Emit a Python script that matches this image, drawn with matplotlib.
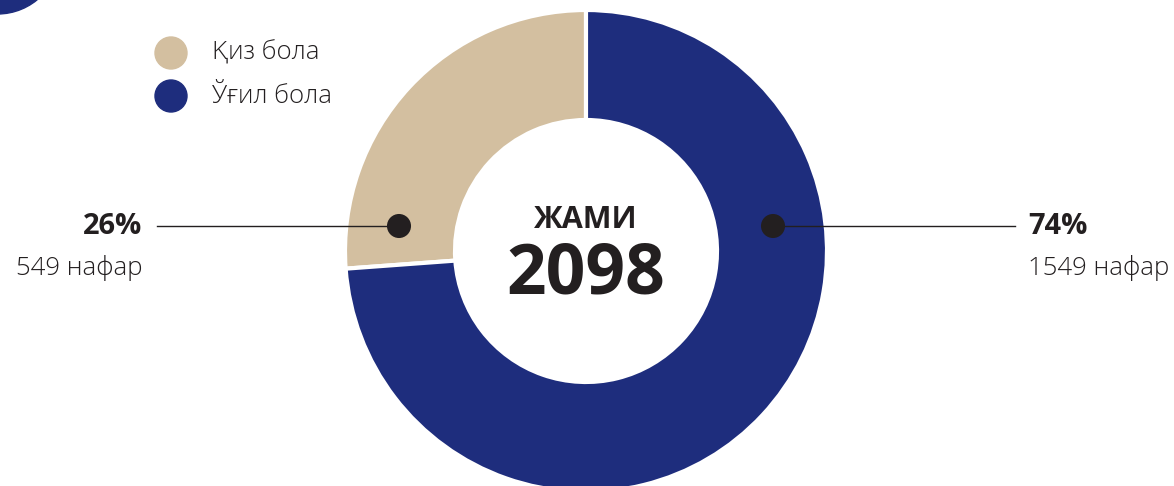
import matplotlib
matplotlib.use("Agg")
import matplotlib.pyplot as plt
from matplotlib.patches import Circle

labels = ["Қиз бола", "Ўғил бола"]
values = [549, 1549]
percent_labels = ["26%", "74%"]
count_labels = ["549 нафар", "1549 нафар"]
total_title = "ЖАМИ"
total_value = "2098"
colors = ["#D3BFA0", "#1E2D7D"]
dark = "#231F20"

plt.rcParams['font.family'] = ['Open Sans', 'DejaVu Sans']

W, H = 1174, 486
fig = plt.figure(figsize=(W / 100, H / 100), dpi=100)
ax = fig.add_axes([0, 0, 1, 1])

cx, cy, R, r_in = 586, H - 251, 241, 131
ax.pie(values, colors=colors, startangle=90, counterclock=True,
       radius=R, center=(cx, cy),
       wedgeprops=dict(width=R - r_in, edgecolor="white", linewidth=3))
ax.set_xlim(0, W)
ax.set_ylim(0, H)
ax.set_aspect('auto')
ax.axis('off')

# decoration circle top-left
ax.add_patch(Circle((-2.5, H + 48.5), 62.5, color=colors[1], clip_on=True))

# center text
ax.text(cx, H - 220, total_title, ha='center', va='center', fontsize=22,
        fontweight='bold', color=dark)
ax.text(cx, H - 276, total_value, ha='center', va='center', fontsize=50,
        fontweight='bold', color=dark)

# callouts
ly = H - 226
ax.plot([157, 399], [ly, ly], color=dark, lw=1, zorder=3)
ax.plot([773, 1015], [ly, ly], color=dark, lw=1, zorder=3)
ax.scatter([399, 773], [ly, ly], s=300, color=dark, zorder=4, edgecolors='none')

ax.text(142, ly, percent_labels[0], ha='right', va='center', fontsize=21,
        fontweight='bold', color=dark)
ax.text(142, H - 268, count_labels[0], ha='right', va='center', fontsize=18.5,
        fontweight='light', color=dark)
ax.text(1028, ly, percent_labels[1], ha='left', va='center', fontsize=21,
        fontweight='bold', color=dark)
ax.text(1028, H - 268, count_labels[1], ha='left', va='center', fontsize=18.5,
        fontweight='light', color=dark)

# legend
for i, (lab, col) in enumerate(zip(labels, colors)):
    y = H - (53 + 43 * i)
    ax.add_patch(Circle((171, y), 16, color=col))
    ax.text(212, y, lab, ha='left', va='center', fontsize=18.5,
            fontweight='light', color=dark)

fig.savefig("out.png", dpi=100)
